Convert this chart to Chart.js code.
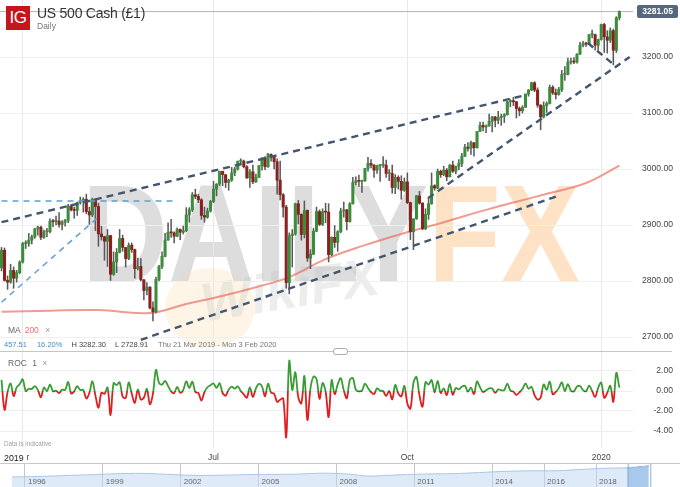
<!DOCTYPE html>
<html lang="en">
<head>
<meta charset="utf-8">
<title>US 500 Cash (£1) - Daily</title>
<script src="https://cdn.jsdelivr.net/npm/chart.js@4.4.1/dist/chart.umd.min.js"></script>
<style>
  html, body { margin: 0; padding: 0; background: #fff; }
  body { position: relative; width: 680px; height: 487px; overflow: hidden;
         font-family: "Liberation Sans", Arial, sans-serif; }
  canvas { position: absolute; left: 0; z-index: 2; }
  .txt { position: absolute; white-space: nowrap; line-height: 1; z-index: 3; }
  #wm { position: absolute; left: 82px; top: 164px; z-index: 1; font-size: 140px; font-weight: bold;
        line-height: 140px; color: #dddddd; transform: scaleX(0.85); transform-origin: 0 0; white-space: nowrap; }
  #wm span { color: #fde2c6; }
  #wiki { position: absolute; left: 200px; top: 262px; z-index: 1; font-size: 54px; font-weight: bold;
          font-style: italic; color: rgba(190,190,190,0.28); transform: rotate(-9deg); line-height: 1; }
  #wikiDot { position: absolute; left: 165px; top: 268px; width: 90px; height: 80px; border-radius: 50%;
             background: rgba(252,214,160,0.25); z-index: 1; }
  #logo { position: absolute; left: 6px; top: 6px; width: 24px; height: 24px; background: #c5161d;
          color: #fff; font-size: 17px; line-height: 24px; text-align: center; letter-spacing: -0.5px; z-index: 3; }
  #sep { position: absolute; left: 0; top: 351px; width: 672px; height: 1px; background: #c6c6c6; z-index: 3; }
  #handle { position: absolute; left: 333px; top: 348px; width: 13px; height: 5px; border: 1px solid #aaa;
            border-radius: 3px; background: #fff; z-index: 4; }
  #navTop { position: absolute; left: 0; top: 463px; width: 680px; height: 1px; background: #c9c9c9; z-index: 3; }
</style>
</head>
<body>
<div id="wm">DAILY<span>FX</span></div>
<div id="wikiDot"></div>
<div id="wiki">WikiFX</div>

<canvas id="main" width="680" height="351" style="top:0"></canvas>
<canvas id="roc" width="680" height="112" style="top:352px"></canvas>
<canvas id="nav" width="680" height="24" style="top:463px"></canvas>

<div id="logo">IG</div>
<div class="txt" style="left:37px;top:6px;font-size:14px;color:#333;letter-spacing:-0.25px">US 500 Cash (£1)</div>
<div class="txt" style="left:37px;top:21.5px;font-size:8.5px;color:#777">Daily</div>

<div class="txt" style="left:8px;top:325.8px;font-size:8.5px;color:#666">MA <span style="color:#e57373;margin-left:2px">200</span> <span style="color:#999;margin-left:4px">×</span></div>
<div class="txt" id="info" style="left:4px;top:341.3px;font-size:7.5px;color:#444"></div>
<div id="sep"></div><div id="handle"></div>
<div class="txt" style="left:8px;top:358.8px;font-size:8.5px;color:#666">ROC <span style="margin-left:3px">1</span> <span style="color:#999;margin-left:3px">×</span></div>
<div class="txt" style="left:4px;top:441px;font-size:6.3px;color:#a0a0a0">Data is indicative</div>
<div class="txt" style="left:0;top:451px;padding:2.7px 3px 2px 4px;font-size:8.8px;color:#222;background:#fff">2019</div>
<div id="navTop"></div>

<script>
// ====================================================================================
// === DATOS: US 500 Cash, velas diarias 21 Mar 2019 - 10 Ene 2020 ===
// ====================================================================================

// trading-day slots shown on the time axis (last four are empty future days)
const slotCount = 209;
const qTickIdx = [7, 70, 134, 198];
const qTickText = ['Apr', 'Jul', 'Oct', '2020'];

const prevClose = 2823.54;

const opens = [
  2823.54, 2855, 2801, 2798, 2819, 2805, 2815, 2834, 2867, 2867,
  2873, 2879, 2893, 2896, 2878, 2888, 2888, 2907, 2906, 2907,
  2901, 2905, 2908, 2934, 2927, 2926, 2940, 2943, 2946, 2924,
  2918, 2946, 2933, 2884, 2879, 2871, 2881, 2812, 2834, 2851,
  2876, 2860, 2840, 2864, 2856, 2822, 2826, 2802, 2783, 2789,
  2752, 2745, 2803, 2826, 2844, 2873, 2887, 2886, 2880, 2892,
  2887, 2890, 2918, 2927, 2954, 2951, 2945, 2917, 2914, 2925,
  2942, 2964, 2973, 2996, 2990, 2976, 2980, 2993, 3000, 3014,
  3014, 3004, 2984, 2995, 2977, 2985, 3006, 3020, 3004, 3026,
  3021, 3013, 2980, 2954, 2932, 2797, 2881, 2884, 2938, 2919,
  2883, 2926, 2841, 2848, 2889, 2924, 2901, 2924, 2923, 2847,
  2878, 2869, 2888, 2925, 2927, 2906, 2938, 2976, 2979, 2978,
  2979, 3001, 3010, 3007, 2998, 3006, 3007, 3007, 2992, 2992,
  2967, 2985, 2978, 2962, 2977, 2940, 2888, 2911, 2952, 2939,
  2893, 2919, 2938, 2970, 2966, 2996, 2990, 2998, 2986, 3007,
  2996, 3005, 3010, 3023, 3039, 3037, 3047, 3038, 3067, 3078,
  3075, 3077, 3085, 3093, 3087, 3092, 3094, 3097, 3120, 3122,
  3120, 3108, 3104, 3110, 3134, 3141, 3154, 3141, 3114, 3093,
  3113, 3117, 3146, 3136, 3133, 3142, 3169, 3169, 3191, 3192,
  3191, 3205, 3221, 3224, 3223, 3240, 3240, 3221, 3231, 3258,
  3236, 3230, 3247, 3212, 3270
];
const highs = [
  2860, 2859, 2809, 2830, 2825, 2819, 2836, 2869, 2872, 2885,
  2882, 2894, 2898, 2898, 2891, 2894, 2911, 2910, 2916, 2922,
  2908, 2910, 2937, 2937, 2932, 2941, 2950, 2949, 2955, 2932,
  2948, 2947, 2939, 2898, 2880, 2892, 2882, 2852, 2858, 2892,
  2882, 2860, 2868, 2868, 2857, 2841, 2840, 2803, 2797, 2790,
  2763, 2807, 2828, 2852, 2885, 2904, 2910, 2888, 2895, 2893,
  2898, 2931, 2931, 2958, 2964, 2955, 2947, 2932, 2930, 2944,
  2978, 2974, 2996, 2996, 2990, 2982, 3003, 3003, 3014, 3018,
  3016, 3006, 2999, 3007, 2991, 3006, 3020, 3022, 3028, 3027,
  3022, 3018, 3014, 2956, 2935, 2886, 2892, 2939, 2944, 2920,
  2943, 2927, 2856, 2894, 2932, 2927, 2929, 2939, 2938, 2879,
  2899, 2890, 2930, 2941, 2928, 2940, 2985, 2986, 2989, 2980,
  3001, 3021, 3017, 3008, 3007, 3008, 3022, 3016, 2999, 3007,
  2990, 2988, 2988, 2984, 2993, 2941, 2911, 2953, 2960, 2940,
  2929, 2948, 2993, 2972, 3000, 2998, 3005, 3001, 3008, 3014,
  3005, 3017, 3028, 3044, 3047, 3050, 3047, 3067, 3084, 3084,
  3079, 3098, 3094, 3094, 3103, 3098, 3099, 3121, 3124, 3128,
  3121, 3111, 3113, 3134, 3142, 3155, 3156, 3145, 3115, 3120,
  3120, 3150, 3149, 3143, 3146, 3176, 3183, 3198, 3198, 3199,
  3206, 3226, 3228, 3226, 3240, 3248, 3241, 3232, 3259, 3260,
  3247, 3252, 3250, 3272, 3282.30
];
const lows = [
  2818, 2800, 2785, 2796, 2787, 2798, 2813, 2832, 2858, 2862,
  2866, 2876, 2882, 2874, 2876, 2879, 2886, 2897, 2900, 2896,
  2891, 2898, 2904, 2925, 2912, 2917, 2937, 2923, 2920, 2901,
  2915, 2890, 2862, 2873, 2837, 2826, 2801, 2810, 2815, 2850,
  2853, 2825, 2838, 2851, 2805, 2820, 2800, 2766, 2775, 2750,
  2728.91, 2743, 2800, 2822, 2843, 2873, 2878, 2868, 2879, 2874,
  2884, 2888, 2905, 2924, 2947, 2940, 2910, 2905, 2912, 2923,
  2940, 2952, 2970, 2970, 2967, 2962, 2978, 2988, 2998, 3008,
  3002, 2983, 2967, 2974, 2976, 2985, 2998, 2999, 3003, 3014,
  3000, 2955, 2945, 2914, 2787, 2777, 2825, 2882, 2902, 2873,
  2877, 2835, 2822, 2847, 2888, 2899, 2899, 2904, 2834, 2845,
  2860, 2853, 2886, 2914, 2891, 2905, 2937, 2971, 2969, 2958,
  2978, 2996, 3002, 2985, 2992, 2978, 3003, 2985, 2979, 2957,
  2956, 2964, 2946, 2960, 2938, 2874, 2856, 2910, 2937, 2892,
  2892, 2910, 2937, 2962, 2965, 2985, 2988, 2979, 2986, 2994,
  2991, 2999, 3004, 3022, 3032, 3026, 3023, 3037, 3067, 3068,
  3065, 3076, 3066, 3075, 3081, 3078, 3083, 3096, 3111, 3113,
  3091, 3095, 3100, 3110, 3130, 3140, 3138, 3110, 3070, 3091,
  3101, 3116, 3133, 3125, 3132, 3138, 3158, 3168, 3187, 3188,
  3189, 3204, 3218, 3219, 3222, 3234, 3212, 3213, 3230, 3208,
  3207, 3226, 3186, 3208, 3266
];
const closes = [
  2855, 2801, 2798, 2819, 2805, 2815, 2834, 2867, 2867, 2873,
  2879, 2893, 2896, 2878, 2888, 2888, 2907, 2906, 2907, 2901,
  2905, 2908, 2934, 2927, 2926, 2940, 2943, 2946, 2924, 2918,
  2946, 2933, 2884, 2879, 2871, 2881, 2812, 2834, 2851, 2876,
  2860, 2840, 2864, 2856, 2822, 2826, 2802, 2783, 2789, 2752,
  2745, 2803, 2826, 2844, 2873, 2887, 2886, 2880, 2892, 2887,
  2890, 2918, 2927, 2954, 2951, 2945, 2917, 2914, 2925, 2942,
  2964, 2973, 2996, 2990, 2976, 2980, 2993, 3000, 3014, 3014,
  3004, 2984, 2995, 2977, 2985, 3006, 3020, 3004, 3026, 3021,
  3013, 2980, 2954, 2932, 2797, 2881, 2884, 2938, 2919, 2883,
  2926, 2841, 2848, 2889, 2924, 2901, 2924, 2923, 2847, 2878,
  2869, 2888, 2925, 2927, 2906, 2938, 2976, 2979, 2978, 2979,
  3001, 3010, 3007, 2998, 3006, 3007, 3007, 2992, 2992, 2967,
  2985, 2978, 2962, 2977, 2940, 2888, 2911, 2952, 2939, 2893,
  2919, 2938, 2970, 2966, 2996, 2990, 2998, 2986, 3007, 2996,
  3005, 3010, 3023, 3039, 3037, 3047, 3038, 3067, 3078, 3075,
  3077, 3085, 3093, 3087, 3092, 3094, 3097, 3120, 3122, 3120,
  3108, 3104, 3110, 3134, 3141, 3154, 3141, 3114, 3093, 3113,
  3117, 3146, 3136, 3133, 3142, 3169, 3169, 3191, 3192, 3191,
  3205, 3221, 3224, 3223, 3240, 3240, 3221, 3231, 3258, 3236,
  3230, 3247, 3212, 3270, 3281.05
];

// 200-day moving average at a few candles
const maIdx = [0, 16, 32, 49, 61, 71, 84, 95, 107, 120, 132, 146, 160, 171, 181, 193, 204];
const maVal = [2745, 2747, 2748, 2743, 2759, 2771, 2789, 2807, 2839, 2864, 2884, 2905, 2927, 2943, 2957, 2975, 3006];

// hand-drawn trendlines [candle index, price]
const trendDark = [
  [[0, 2905], [173, 3132]],
  [[46, 2695], [184.3, 2953]],
  [[140.8, 2948], [207.4, 3200]],
  [[193.6, 3225], [203.1, 3182]]
];
const trendBlue = [
  [[0, 2943], [58, 2943]],
  [[0, 2762], [31.5, 2912]]
];

// navigator: long history
const navYears = [1995.5, 1996.5, 1997.5, 1998.5, 1999.5, 2000.5, 2001.5, 2002.5, 2003.5, 2004.5, 2005.5, 2006.5, 2007.5,
                  2008.5, 2009.2, 2010.5, 2011.5, 2012.5, 2013.5, 2014.5, 2015.5, 2016.5, 2017.5, 2018.5, 2019.2, 2019.6, 2020.03];
const navValues = [560, 670, 900, 1100, 1350, 1450, 1200, 950, 980, 1130, 1200, 1270, 1500,
                   1250, 780, 1100, 1300, 1380, 1650, 1950, 2080, 2100, 2450, 2750, 2810, 2980, 3281];
const navTickYears = [1996, 1999, 2002, 2005, 2008, 2011, 2014, 2016, 2018];
const navWindow = [2019.22, 2020.09];

// ====================================================================================
// === GRÁFICOS ===
// ====================================================================================

const FONT = '"Liberation Sans", Arial, sans-serif';
Chart.defaults.font.family = FONT;

const last = closes[closes.length - 1];
const change = last - prevClose;
document.getElementById('info').innerHTML =
  '<span style="color:#3a8fd6">' + change.toFixed(2) + '</span>' +
  '<span style="color:#3a8fd6;margin-left:10px">' + (change / prevClose * 100).toFixed(2) + '%</span>' +
  '<span style="margin-left:9px">H ' + Math.max(...highs).toFixed(2) + '</span>' +
  '<span style="margin-left:9px">L ' + Math.min(...lows).toFixed(2) + '</span>' +
  '<span style="margin-left:10px;color:#777">Thu 21 Mar 2019 - Mon 3 Feb 2020</span>';

// no label overflow padding: panels are stacked edge to edge
function noPad(s) { s.paddingTop = 0; s.paddingBottom = 0; s.paddingLeft = 0; s.paddingRight = 0; }

function timeAxis(showLabels) {
  return {
    type: 'linear', min: -0.5, max: slotCount - 0.5, offset: false,
    grid: { color: '#e8e8e8', drawTicks: false, offset: false },
    border: { display: false },
    afterBuildTicks: s => { s.ticks = qTickIdx.map(v => ({ value: v })); },
    ticks: showLabels
      ? { color: '#444', font: { size: 8.5 }, padding: 5, maxRotation: 0, autoSkip: false,
          callback: v => qTickText[qTickIdx.indexOf(v)] }
      : { display: false },
    afterFit: s => { s.height = showLabels ? 16 : 0; noPad(s); }
  };
}

// right-hand value axis; labels end 7px short of the canvas edge
function priceAxis(min, max, step, extra) {
  return Object.assign({
    position: 'right', min, max, beginAtZero: false,
    ticks: { stepSize: step, includeBounds: false, callback: v => v.toFixed(2), color: '#444',
             font: { size: 8.6 }, crossAlign: 'far', padding: 2 },
    grid: { color: '#efefef', drawTicks: false },
    border: { display: false },
    afterFit: s => { s.width = 40; noPad(s); }
  }, extra || {});
}

const priceTag = {
  id: 'priceTag',
  afterDraw(chart) {
    const { ctx, chartArea, scales: { y } } = chart;
    const py = y.getPixelForValue(last);
    ctx.save();
    ctx.fillStyle = '#56677e';
    ctx.beginPath();
    if (ctx.roundRect) ctx.roundRect(chartArea.right + 4, py - 6.5, 41, 13, 2);
    else ctx.rect(chartArea.right + 4, py - 6.5, 41, 13);
    ctx.fill();
    ctx.fillStyle = '#fff';
    ctx.font = '600 8.5px ' + FONT;
    ctx.textAlign = 'right';
    ctx.textBaseline = 'middle';
    ctx.fillText(last.toFixed(2), 673, py + 0.5);
    ctx.restore();
  }
};

const trendSets = [
  ...trendDark.map(seg => ({
    type: 'line', data: seg.map(([x, y]) => ({ x, y })), borderColor: '#42566f', borderWidth: 2.4,
    borderDash: [7, 5], pointRadius: 0, order: 1
  })),
  ...trendBlue.map(seg => ({
    type: 'line', data: seg.map(([x, y]) => ({ x, y })), borderColor: '#5e9fd8', borderWidth: 1.5,
    borderDash: [6, 5], pointRadius: 0, order: 1
  }))
];

new Chart(document.getElementById('main'), {
  type: 'bar',
  data: {
    datasets: [
      ...trendSets,
      { type: 'line', data: [{ x: -0.5, y: last }, { x: slotCount - 0.5, y: last }],
        borderColor: '#b3b3b3', borderWidth: 1, pointRadius: 0, order: 5 },
      { type: 'bar', data: opens.map((o, i) => ({ x: i, y: [o, closes[i]] })),
        backgroundColor: opens.map((o, i) => closes[i] >= o ? '#3b8d3b' : '#8a2020'),
        barThickness: 2.4, grouped: false, minBarLength: 1, order: 2 },
      { type: 'bar', data: highs.map((h, i) => ({ x: i, y: [lows[i], h] })),
        backgroundColor: '#5a5a5a', barThickness: 0.9, grouped: false, order: 3 },
      { type: 'line', data: maIdx.map((x, i) => ({ x, y: maVal[i] })),
        borderColor: 'rgba(232,112,100,0.7)', borderWidth: 2, pointRadius: 0, tension: 0.4, order: 9 }
    ]
  },
  options: {
    responsive: false, animation: false,
    layout: { padding: { left: 0, top: 0, bottom: 0, right: 7 }, autoPadding: false },
    plugins: { legend: { display: false }, tooltip: { enabled: false } },
    scales: {
      x: timeAxis(false),
      y: priceAxis(2675, 3301.8, 100, {
        afterBuildTicks: s => { s.ticks = s.ticks.filter(t => t.value <= 3200); }
      })
    }
  },
  plugins: [priceTag]
});

function rocColor(context) {
  const { chart } = context;
  const { chartArea, scales } = chart;
  if (!chartArea) return '#3a9c34';
  const zero = scales.y.getPixelForValue(0);
  const g = chart.ctx.createLinearGradient(0, chartArea.top, 0, chartArea.bottom);
  const s = Math.min(1, Math.max(0, (zero - chartArea.top) / (chartArea.bottom - chartArea.top)));
  g.addColorStop(0, '#3a9c34'); g.addColorStop(s, '#3a9c34');
  g.addColorStop(s, '#dd1f1f'); g.addColorStop(1, '#dd1f1f');
  return g;
}

// ROC(1): one-period rate of change of the closes
new Chart(document.getElementById('roc'), {
  type: 'line',
  data: {
    datasets: [{
      data: closes.map((c, i) => ({ x: i, y: (c / (i ? closes[i - 1] : prevClose) - 1) * 100 })),
      borderColor: rocColor, borderWidth: 1.8, pointRadius: 0, tension: 0.35
    }]
  },
  options: {
    responsive: false, animation: false,
    layout: { padding: { left: 0, top: 0, bottom: 0, right: 7 }, autoPadding: false },
    plugins: { legend: { display: false }, tooltip: { enabled: false } },
    scales: {
      x: timeAxis(true),
      y: priceAxis(-5.7, 3.9, 2)
    }
  }
});

const navDecor = {
  id: 'navDecor',
  afterDraw(chart) {
    const { ctx, chartArea, scales: { x } } = chart;
    ctx.save();
    ctx.fillStyle = '#666';
    ctx.font = '8px ' + FONT;
    ctx.textBaseline = 'middle';
    navTickYears.forEach(yr => ctx.fillText(String(yr), x.getPixelForValue(yr) + 3, 18.5));
    const x1 = x.getPixelForValue(navWindow[0]);
    const x2 = x.getPixelForValue(navWindow[1]);
    ctx.strokeStyle = '#8fb0d8';
    ctx.lineWidth = 1;
    ctx.strokeRect(x1 + 0.5, chartArea.top + 0.5, x2 - x1, chartArea.bottom - chartArea.top);
    ctx.restore();
  }
};

const navPts = navYears.map((x, i) => ({ x, y: navValues[i] }));
new Chart(document.getElementById('nav'), {
  type: 'line',
  data: {
    datasets: [
      { data: navPts, borderColor: '#a9c7e8', borderWidth: 1, backgroundColor: 'rgba(190,213,240,0.5)',
        fill: 'start', pointRadius: 0, tension: 0.3 },
      { data: navPts.filter(p => p.x >= navWindow[0] - 0.05), borderColor: '#4c8bd2', borderWidth: 1.2,
        backgroundColor: 'rgba(110,165,225,0.75)', fill: 'start', pointRadius: 0 }
    ]
  },
  options: {
    responsive: false, animation: false,
    layout: { padding: 0, autoPadding: false },
    plugins: { legend: { display: false }, tooltip: { enabled: false } },
    scales: {
      x: {
        type: 'linear', min: 1995.037, max: 2021.236,
        grid: { color: '#c6c6c6', drawTicks: false }, border: { display: false },
        ticks: { display: false },
        afterBuildTicks: s => { s.ticks = navTickYears.map(v => ({ value: v })); },
        afterFit: s => { s.height = 0; noPad(s); }
      },
      y: { display: false, min: -1950, max: 4030 }
    }
  },
  plugins: [navDecor]
});
</script>
</body>
</html>
